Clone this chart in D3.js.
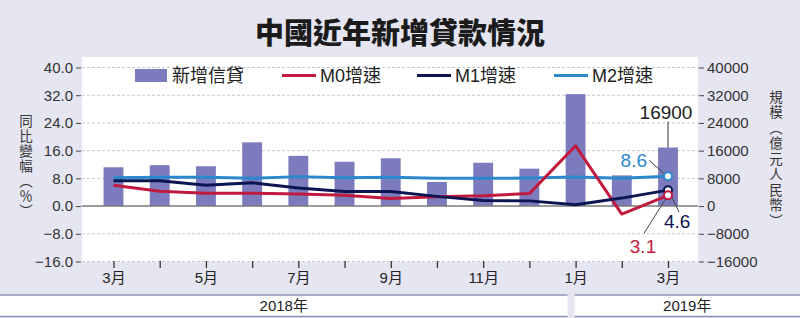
<!DOCTYPE html>
<html><head><meta charset="utf-8">
<script src="https://cdn.jsdelivr.net/npm/d3@7"></script>
<style>
html,body{margin:0;padding:0;background:#e6e6f2;}
svg{display:block;}
text{font-family:"Liberation Sans","Noto Sans CJK TC",sans-serif;}
</style></head>
<body>
<svg id="c" width="800" height="318"></svg>
<script>
const months = ["2018-03","2018-04","2018-05","2018-06","2018-07","2018-08","2018-09","2018-10","2018-11","2018-12","2019-01","2019-02","2019-03"];
const tickLabels = ["3月","","5月","","7月","","9月","","11月","","1月","","3月"];
const yearLabels = ["2018年","2019年"];
const newLoans = [11200, 11800, 11500, 18400, 14500, 12800, 13800, 6970, 12500, 10800, 32300, 8858, 16900];
const m0 = [6.0, 4.3, 3.7, 3.7, 3.5, 3.1, 2.2, 2.7, 3.0, 3.6, 17.4, -2.3, 3.1];
const m1 = [7.3, 7.3, 6.0, 6.7, 5.2, 4.2, 4.2, 2.8, 1.6, 1.5, 0.4, 2.3, 4.6];
const m2 = [8.2, 8.3, 8.3, 8.0, 8.5, 8.2, 8.3, 8.0, 8.0, 8.1, 8.4, 8.0, 8.6];
const leftTicks = [40, 32, 24, 16, 8, 0, -8, -16];
const rightTicks = [40000, 32000, 24000, 16000, 8000, 0, -8000, -16000];
const seriesNames = ["新增信貸","M0增速","M1增速","M2增速"];
const title = "中國近年新增貸款情況";
const leftTitle = "同比變幅（％）";
const rightTitle = "規模（億元人民幣）";

const colors = {bar:"#7b7bbd", m0:"#c21a3f", m1:"#0b1552", m2:"#2b88cc"};
const svg = d3.select("#c");
const plot = {l:82, r:698, t:57, b:262};

const x = d3.scalePoint().domain(months).range([113.5, 668]);
const yL = d3.scaleLinear().domain([-16, 40]).range([261.5, 67.5]);
const yR = d3.scaleLinear().domain([-16000, 40000]).range([261.5, 67.5]);
const barW = x.step() * 0.43;

// background plot area
svg.append("rect").attr("x", plot.l).attr("y", plot.t).attr("width", plot.r - plot.l).attr("height", plot.b - plot.t).attr("fill", "#fff");

// title
svg.append("text").attr("x", 400).attr("y", 44).attr("text-anchor", "middle")
  .style("font-family", "'Noto Sans CJK TC','Noto Sans CJK SC',serif").style("font-weight", 900)
  .style("font-size", "29px").attr("fill", "#1b1b1b").text(title);

// gridlines
svg.append("g").selectAll("line").data(leftTicks.filter(d => d !== 0)).join("line")
  .attr("x1", plot.l).attr("x2", plot.r).attr("y1", d => yL(d)).attr("y2", d => yL(d))
  .attr("stroke", "#c8c8c8").attr("stroke-width", 1).attr("stroke-dasharray", "3,2");

// left axis
const gL = svg.append("g").attr("transform", `translate(${plot.l - 1},0)`)
  .call(d3.axisLeft(yL).tickValues(leftTicks).tickFormat(d => d.toFixed(1).replace("-", "−")).tickSize(5).tickPadding(3));
gL.select(".domain").remove();
gL.selectAll("line").attr("stroke", "#444");
gL.selectAll("text").style("font-size", "15px").attr("fill", "#333").style("font-family", "'Liberation Sans',sans-serif");

// right axis
const gR = svg.append("g").attr("transform", `translate(${plot.r + 1},0)`)
  .call(d3.axisRight(yR).tickValues(rightTicks).tickFormat(d => String(d).replace("-", "−")).tickSize(5).tickPadding(3));
gR.select(".domain").remove();
gR.selectAll("line").attr("stroke", "#444");
gR.selectAll("text").style("font-size", "15px").attr("fill", "#333").style("font-family", "'Liberation Sans',sans-serif");

// bars
svg.append("g").selectAll("rect").data(newLoans).join("rect")
  .attr("x", (d, i) => x(months[i]) - barW / 2).attr("width", barW)
  .attr("y", d => Math.min(yR(d), yR(0))).attr("height", d => Math.abs(yR(d) - yR(0)))
  .attr("fill", colors.bar);

// zero line
svg.append("line").attr("x1", plot.l).attr("x2", plot.r).attr("y1", yL(0)).attr("y2", yL(0))
  .attr("stroke", "#7a7a7a").attr("stroke-width", 1.6);

// lines
const line = d3.line().x((d, i) => x(months[i])).y(d => yL(d));
[[m2, colors.m2], [m0, colors.m0], [m1, colors.m1]].forEach(([data, c]) => {
  svg.append("path").datum(data).attr("d", line).attr("fill", "none")
    .attr("stroke", c).attr("stroke-width", 3).attr("stroke-linejoin", "round");
});

// x axis
const gX = svg.append("g").attr("transform", `translate(0,${plot.b - 1})`)
  .call(d3.axisBottom(x).tickFormat((d, i) => tickLabels[i]).tickSize(7).tickPadding(4));
gX.select(".domain").remove();
gX.selectAll("line").attr("stroke", "#333").attr("stroke-width", 1.3);
gX.selectAll("text").style("font-size", "15px").attr("fill", "#222");

// year boxes
const lastIdx = months.length - 1;
const splitX = x(months[10]) - 5;
const boxes = [{x0: 0, x1: splitX - 3, t: yearLabels[0]}, {x0: splitX + 4, x1: 800, t: yearLabels[1]}];
boxes.forEach(b => {
  svg.append("rect").attr("x", b.x0).attr("y", 295).attr("width", b.x1 - b.x0).attr("height", 21).attr("fill", "#fff");
  svg.append("line").attr("x1", b.x0).attr("x2", b.x1).attr("y1", 295).attr("y2", 295).attr("stroke", "#8d95b8").attr("stroke-width", 1.5);
  svg.append("line").attr("x1", b.x0).attr("x2", b.x1).attr("y1", 316.5).attr("y2", 316.5).attr("stroke", "#8d95b8").attr("stroke-width", 1.5);
  svg.append("text").attr("x", (b.x0 + b.x1) / 2).attr("y", 311).attr("text-anchor", "middle")
    .style("font-size", "15px").attr("fill", "#222").text(b.t);
});

// axis titles (vertical)
function vtitle(str, cx, y0, spacing) {
  svg.append("text").attr("x", cx).attr("y", y0)
    .style("writing-mode", "vertical-rl").style("font-size", "13.5px")
    .style("letter-spacing", spacing + "px").attr("fill", "#333")
    .style("font-family", "'Noto Sans CJK TC',sans-serif").text(str);
}
vtitle(leftTitle, 26, 114, 1.5);
vtitle(rightTitle, 776, 90, 2);

// legend
const lg = svg.append("g").style("font-size", "18px");
lg.append("rect").attr("x", 135).attr("y", 69).attr("width", 32).attr("height", 13).attr("fill", colors.bar);
lg.append("text").attr("x", 172).attr("y", 82).attr("fill", "#222").text(seriesNames[0]);
[[282, colors.m0, seriesNames[1]], [417, colors.m1, seriesNames[2]], [554, colors.m2, seriesNames[3]]].forEach(([lx, c, n]) => {
  lg.append("line").attr("x1", lx).attr("x2", lx + 34).attr("y1", 75.5).attr("y2", 75.5).attr("stroke", c).attr("stroke-width", 3);
  lg.append("text").attr("x", lx + 38).attr("y", 82).attr("fill", "#222").text(n);
});

// annotations at last point
const cx = x(months[lastIdx]);
const ann = svg.append("g").style("font-size", "19px");
ann.append("line").attr("x1", cx).attr("x2", cx).attr("y1", yR(newLoans[lastIdx])).attr("y2", yR(newLoans[lastIdx]) - 26).attr("stroke", "#333").attr("stroke-width", 1);
ann.append("text").attr("x", cx - 2).attr("y", yR(newLoans[lastIdx]) - 29).attr("text-anchor", "middle").attr("fill", "#222").text(newLoans[lastIdx]);
ann.append("line").attr("x1", cx - 19).attr("x2", cx - 3).attr("y1", yL(m2[lastIdx]) - 16).attr("y2", yL(m2[lastIdx]) - 2).attr("stroke", "#444").attr("stroke-width", 1);
ann.append("text").attr("x", cx - 21).attr("y", yL(m2[lastIdx]) - 9).attr("text-anchor", "end").attr("fill", colors.m2).text(m2[lastIdx].toFixed(1));
ann.append("line").attr("x1", cx + 2).attr("x2", cx + 11).attr("y1", yL(m1[lastIdx]) + 3).attr("y2", yL(m1[lastIdx]) + 22).attr("stroke", "#444").attr("stroke-width", 1);
ann.append("text").attr("x", cx - 4).attr("y", yL(m1[lastIdx]) + 38).attr("text-anchor", "start").attr("fill", colors.m1).text(m1[lastIdx].toFixed(1));
ann.append("line").attr("x1", cx - 2).attr("x2", cx - 24).attr("y1", yL(m0[lastIdx]) + 3).attr("y2", yL(m0[lastIdx]) + 38).attr("stroke", "#444").attr("stroke-width", 1);
ann.append("text").attr("x", cx - 25).attr("y", yL(m0[lastIdx]) + 58).attr("text-anchor", "middle").attr("fill", colors.m0).text(m0[lastIdx].toFixed(1));

// markers
[[m2, colors.m2], [m1, colors.m1], [m0, colors.m0]].forEach(([data, c]) => {
  svg.append("circle").attr("cx", cx).attr("cy", yL(data[lastIdx])).attr("r", 4)
    .attr("fill", "#fff").attr("stroke", c).attr("stroke-width", 2);
});
</script>
</body></html>
